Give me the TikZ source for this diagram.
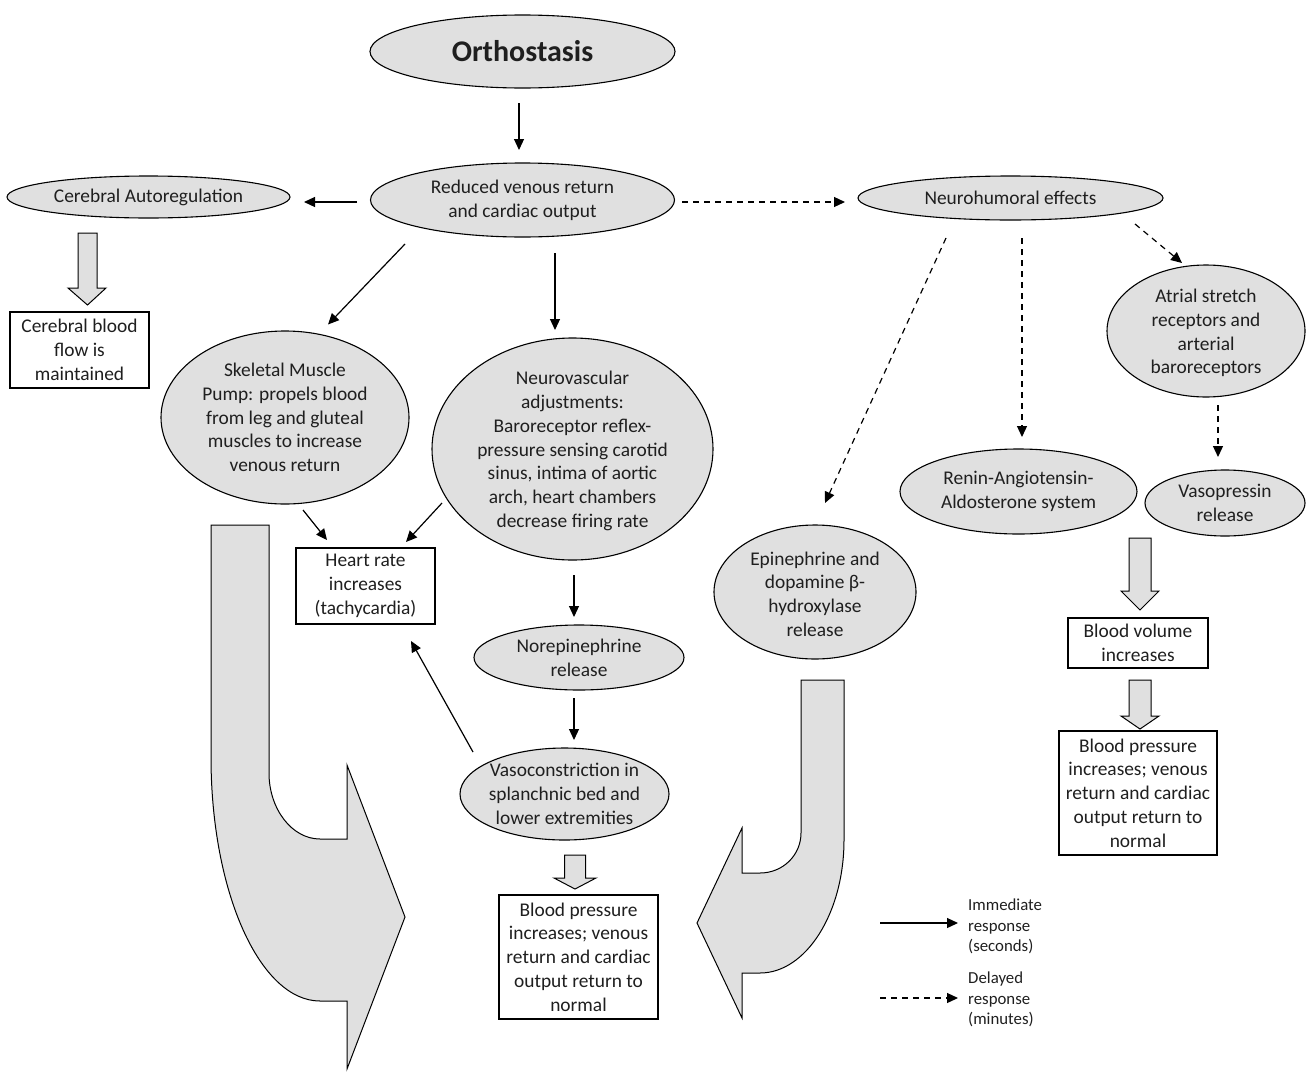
\documentclass[tikz,border=0pt]{standalone}
\usepackage{fontspec}
\setmainfont{Carlito}
\usetikzlibrary{shapes.geometric,arrows.meta}
\newcommand\mainfs{\fontsize{19.4}{23.7}\selectfont}
\newcommand\legfs{\fontsize{16.8}{20.7}\selectfont}
\begin{document}
\begin{tikzpicture}[x=1pt,y=-1pt,
  ell/.style={ellipse, draw=black, line width=1.1pt, fill=black!12, inner sep=0pt, outer sep=0pt},
  box/.style={rectangle, draw=black, line width=1.2pt, fill=white, inner sep=0pt, align=center, font=\mainfs, text=black!88},
  txt/.style={align=center, inner sep=0pt, font=\mainfs, text=black!88},
  legtxt/.style={align=left, inner sep=0pt, font=\legfs, text=black!88, anchor=west},
  arr/.style={line width=1.2pt, -{Triangle[length=11pt,width=10pt]}},
  darr/.style={arr, dash pattern=on 6pt off 5pt},
  blk/.style={draw=black, line width=1pt, fill=black!12, line join=miter},
]
\useasboundingbox (0,0) rectangle (1306,1071);

% ---------- big curved block arrows ----------
\draw[blk] (211,525) -- (269,525) -- (269,773)
  .. controls (269,809) and (292,839) .. (320,839) -- (347,839) -- (347,765)
  -- (405,917) -- (347,1069) -- (347,1001) -- (320,1001)
  .. controls (260,1001) and (211,892) .. (211,757) -- cycle;
\draw[blk] (801,680) -- (844,680) -- (844,840)
  .. controls (844,913) and (806,973) .. (760,973) -- (742,973) -- (742,1018)
  -- (697,923) -- (742,828) -- (742,873) -- (760,873)
  .. controls (783,873) and (801,855) .. (801,833) -- cycle;

% ---------- ellipses ----------
\node[ell, minimum width=305pt, minimum height=73pt] (orth) at (522.5,51.5) {};
\node[txt, font=\fontsize{30}{36}\selectfont\bfseries] (orth-t) at (orth) {Orthostasis};

\node[ell, minimum width=304pt, minimum height=74pt] (red) at (522.5,200) {};
\node[txt] (red-t) at (red) {Reduced venous return\\and cardiac output};

\node[ell, minimum width=283pt, minimum height=42pt] (ca) at (148.5,197) {};
\node[txt] (ca-t) at (ca) {Cerebral Autoregulation};

\node[ell, minimum width=305pt, minimum height=44pt] (nh) at (1010.5,198) {};
\node[txt] (nh-t) at (nh) {Neurohumoral effects};

\node[ell, minimum width=248pt, minimum height=173pt] (sk) at (285,417.5) {};
\node[txt] (sk-t) at (sk) {Skeletal Muscle\\Pump: propels blood\\from leg and gluteal\\muscles to increase\\venous return};

\node[ell, minimum width=281pt, minimum height=222pt] (nv) at (572.5,449) {};
\node[txt] (nv-t) at ([yshift=-2pt]nv.center) {Neurovascular\\adjustments:\\Baroreceptor reflex-\\pressure sensing carotid\\sinus, intima of aortic\\arch, heart chambers\\decrease firing rate};

\node[ell, minimum width=198pt, minimum height=132pt] (at) at (1206,331) {};
\node[txt] (at-t) at ([yshift=-2pt]at.center) {Atrial stretch\\receptors and\\arterial\\baroreceptors};

\node[ell, minimum width=237pt, minimum height=85pt] (ren) at (1018.5,491.5) {};
\node[txt] (ren-t) at (ren) {Renin-Angiotensin-\\Aldosterone system};

\node[ell, minimum width=160pt, minimum height=66pt] (vp) at (1225,503) {};
\node[txt] (vp-t) at (vp) {Vasopressin\\release};

\node[ell, minimum width=202pt, minimum height=134pt] (ep) at (815,592) {};
\node[txt] (ep-t) at ([yshift=-2pt]ep.center) {Epinephrine and\\dopamine β-\\hydroxylase\\release};

\node[ell, minimum width=210pt, minimum height=65pt] (ne) at (579,657.5) {};
\node[txt] (ne-t) at (ne) {Norepinephrine\\release};

\node[ell, minimum width=209pt, minimum height=92pt] (vc) at (564.5,794) {};
\node[txt] (vc-t) at (vc) {Vasoconstriction in\\splanchnic bed and\\lower extremities};

% ---------- boxes ----------
\node[box, minimum width=139pt, minimum height=76pt] (cbf) at (79.5,350) {Cerebral blood\\flow is\\maintained};
\node[box, minimum width=139pt, minimum height=76pt] (hr) at (365.5,586) {Heart rate\\increases\\(tachycardia)};
\node[box, minimum width=159pt, minimum height=124pt] (bp) at (578.5,957) {Blood pressure\\increases; venous\\return and cardiac\\output return to\\normal};
\node[box, minimum width=140pt, minimum height=50pt] (bv) at (1138,643) {Blood volume\\increases};
\node[box, minimum width=158pt, minimum height=124pt] (bp2) at (1138,793) {Blood pressure\\increases; venous\\return and cardiac\\output return to\\normal};

% ---------- small block arrows ----------
\draw[blk] (78,233) -- (97,233) -- (97,288) -- (106,288) -- (87.5,305) -- (68,288) -- (78,288) -- cycle;
\draw[blk] (564.5,855) -- (585.5,855) -- (585.5,878) -- (596,878) -- (575,889) -- (554,878) -- (564.5,878) -- cycle;
\draw[blk] (1129,538) -- (1151,538) -- (1151,591) -- (1159,591) -- (1140,610) -- (1121,591) -- (1129,591) -- cycle;
\draw[blk] (1129,680) -- (1151,680) -- (1151,716) -- (1159,716) -- (1140,729) -- (1121,716) -- (1129,716) -- cycle;

% ---------- connectors ----------
\draw[arr] ([shift={(-3.5,51.5)}]orth.center) -- ([shift={(-3.5,-50)}]red.center);
\draw[arr] ([shift={(-165.5,2)}]red.center) -- ([shift={(155.5,5)}]ca.center);
\draw[darr] ([shift={(159.5,2)}]red.center) -- ([shift={(-165.5,4)}]nh.center);
\draw[arr] ([shift={(-117.5,44)}]red.center) -- ([shift={(43,-93)}]sk.center);
\draw[arr] ([shift={(32.5,53)}]red.center) -- ([shift={(-17.5,-119)}]nv.center);
\draw[darr] ([shift={(-64.5,40)}]nh.center) -- ([shift={(10,-89)}]ep.center);
\draw[darr] ([shift={(11.5,40)}]nh.center) -- ([shift={(3.5,-54.5)}]ren.center);
\draw[darr] ([shift={(124.5,26)}]nh.center) -- ([shift={(-24,-68)}]at.center);
\draw[darr] ([shift={(12,74)}]at.center) -- ([shift={(-7,-46)}]vp.center);
\draw[arr] ([shift={(18,92.5)}]sk.center) -- ([shift={(-38.5,-46)}]hr.center);
\draw[arr] ([shift={(-130.5,54)}]nv.center) -- ([shift={(40.5,-44)}]hr.center);
\draw[arr] ([shift={(1.5,126)}]nv.center) -- ([shift={(-5,-40.5)}]ne.center);
\draw[arr] ([shift={(-5,40.5)}]ne.center) -- ([shift={(9.5,-54)}]vc.center);
\draw[arr] ([shift={(-91.5,-42)}]vc.center) -- ([shift={(45.5,55)}]hr.center);

% ---------- legend ----------
\node[legtxt] (leg1) at (968,926.5) {Immediate\\response\\(seconds)};
\node[legtxt] (leg2) at (968,999.5) {Delayed\\response\\(minutes)};
\coordinate (l1) at (880,923);
\coordinate (l2) at (880,998);
\draw[arr] (l1) -- ([xshift=-10pt]leg1.west |- l1);
\draw[darr] (l2) -- ([xshift=-10pt]leg2.west |- l2);
\end{tikzpicture}
\end{document}
